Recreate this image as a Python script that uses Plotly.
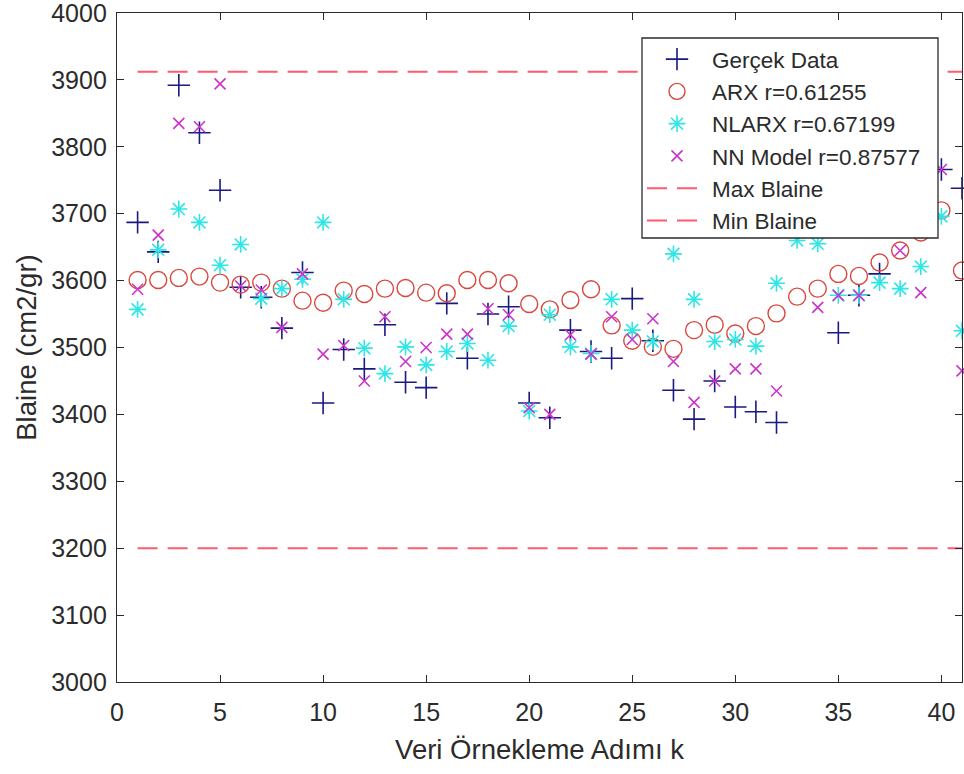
import plotly.graph_objects as go

# ---- data ----
k = list(range(1, 42))

gercek = [3687, 3643, 3892, 3821, 3735, 3590, 3575, 3529, 3612, 3417,
          3497, 3468, 3534, 3448, 3440, 3566, 3484, 3550, 3561, 3417,
          3395, 3526, 3494, 3484, 3573, 3510, 3436, 3393, 3450, 3411,
          3404, 3388, 3720, 3690, 3522, 3578, 3610, 3700, 3720, 3766, 3738]

arx = [3601, 3601, 3604, 3606, 3597, 3594, 3597, 3588, 3570, 3567,
       3585, 3580, 3588, 3589, 3582, 3581, 3601, 3601, 3596, 3565,
       3557, 3571, 3587, 3533, 3510, 3501, 3498, 3526, 3534, 3521,
       3532, 3551, 3576, 3588, 3610, 3607, 3627, 3645, 3672, 3705, 3615]

nlarx = [3557, 3646, 3707, 3687, 3623, 3654, 3573, 3588, 3602, 3687,
         3572, 3499, 3461, 3501, 3474, 3494, 3506, 3481, 3532, 3405,
         3549, 3501, 3491, 3572, 3526, 3509, 3640, 3572, 3509, 3512,
         3502, 3596, 3660, 3655, 3578, 3578, 3597, 3588, 3621, 3696, 3525]

nn = [3587, 3668, 3835, 3830, 3894, 3592, 3586, 3530, 3610, 3490,
      3503, 3450, 3546, 3479, 3500, 3520, 3520, 3558, 3549, 3410,
      3400, 3519, 3490, 3546, 3512, 3543, 3479, 3418, 3450, 3468,
      3468, 3435, 3700, 3560, 3578, 3578, 3690, 3645, 3582, 3766, 3465]

limit_k = [1, 41]
max_blaine = [3912, 3912]
min_blaine = [3200, 3200]

x_ticks = [0, 5, 10, 15, 20, 25, 30, 35, 40]
y_ticks = [3000, 3100, 3200, 3300, 3400, 3500, 3600, 3700, 3800, 3900, 4000]

names = ["Gerçek Data", "ARX r=0.61255", "NLARX r=0.67199",
         "NN Model r=0.87577", "Max Blaine", "Min Blaine"]

# ---- styling ----
FONT = "Liberation Sans, Arial, Helvetica, sans-serif"
AX = "#2b2b2b"
C_G = "#1a1a80"
C_ARX = "#d9473c"
C_NL = "#2ee6e6"
C_NN = "#cc33cc"
C_LIM = "#ff5a6e"

fig = go.Figure()
fig.add_trace(go.Scatter(x=k, y=gercek, mode="markers", name=names[0], cliponaxis=False,
                         marker=dict(symbol="cross-thin-open", size=16, color=C_G,
                                     line=dict(width=1.6, color=C_G))))
fig.add_trace(go.Scatter(x=k, y=arx, mode="markers", name=names[1], cliponaxis=False,
                         marker=dict(symbol="circle-open", size=17, color=C_ARX,
                                     line=dict(width=1.4, color=C_ARX))))
fig.add_trace(go.Scatter(x=k, y=nlarx, mode="markers", name=names[2], cliponaxis=False,
                         marker=dict(symbol="asterisk-open", size=14, color=C_NL,
                                     line=dict(width=1.6, color=C_NL))))
fig.add_trace(go.Scatter(x=k, y=nn, mode="markers", name=names[3], cliponaxis=False,
                         marker=dict(symbol="x-thin-open", size=11, color=C_NN,
                                     line=dict(width=1.6, color=C_NN))))
fig.add_trace(go.Scatter(x=limit_k, y=max_blaine, mode="lines", name=names[4],
                         line=dict(color=C_LIM, width=2, dash="20px,10px")))
fig.add_trace(go.Scatter(x=limit_k, y=min_blaine, mode="lines", name=names[5],
                         line=dict(color=C_LIM, width=2, dash="20px,10px")))

axis_common = dict(showline=True, linecolor=AX, linewidth=1.3, mirror="ticks",
                   ticks="inside", ticklen=7, tickwidth=1.2, tickcolor=AX,
                   showgrid=False, zeroline=False, ticklabeloverflow="allow",
                   automargin=False,
                   tickfont=dict(family=FONT, size=25, color=AX))

fig.update_xaxes(range=[0, 41], tickvals=x_ticks, ticktext=[str(v) for v in x_ticks],
                 ticklabelstandoff=8,
                 title=dict(text="Veri Örnekleme Adımı k", font=dict(family=FONT, size=27.5, color=AX),
                            standoff=14),
                 **axis_common)
fig.update_yaxes(range=[3000, 4000], tickvals=y_ticks, ticktext=[str(v) for v in y_ticks],
                 ticklabelstandoff=4,
                 title=dict(text="Blaine (cm2/gr)", font=dict(family=FONT, size=27.5, color=AX),
                            standoff=6),
                 **axis_common)

# legend frame (white box that also covers the points behind the legend)
PW = 964 - 117 - 2
fig.add_shape(type="rect", xref="paper", yref="paper",
              x0=(642 - 117) / PW, x1=(938 - 117) / PW, y0=0.6637, y1=0.9626,
              fillcolor="white", line=dict(color=AX, width=1.3), layer="above")

fig.update_layout(
    width=964, height=774, autosize=False,
    margin=dict(l=117, r=2, t=13, b=92),
    paper_bgcolor="white", plot_bgcolor="white",
    font=dict(family=FONT, color=AX),
    legend=dict(x=(642 - 117) / PW, y=0.9626, xanchor="left", yanchor="top",
                bgcolor="rgba(0,0,0,0)", borderwidth=0,
                font=dict(family=FONT, size=22.5, color=AX),
                itemwidth=60, itemsizing="trace"),
    showlegend=True,
)

fig.write_html("out.html")
